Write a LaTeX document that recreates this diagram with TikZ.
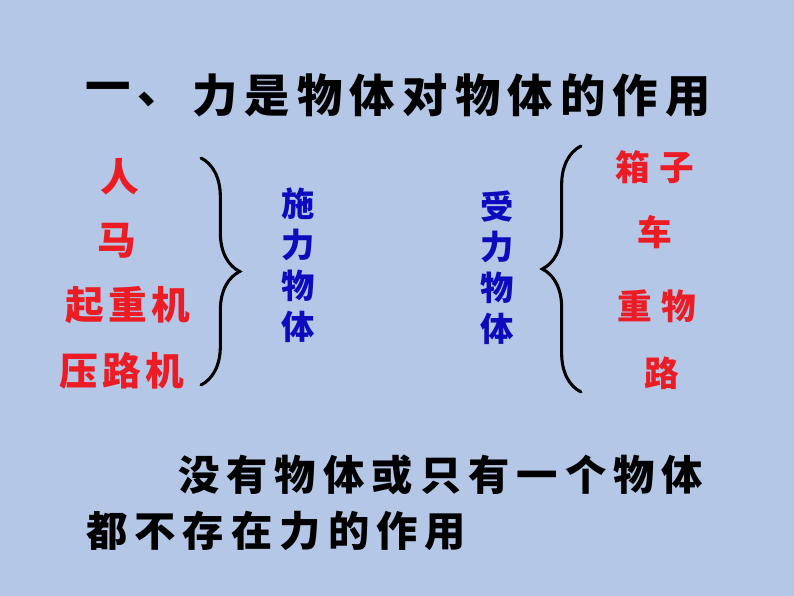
\documentclass[tikz,border=0pt]{standalone}
\usepackage{fontspec}
\newfontfamily\cjk{Noto Sans CJK SC}
\usetikzlibrary{decorations.pathreplacing}
\definecolor{slidebg}{RGB}{180,199,231}
\definecolor{objred}{RGB}{236,28,36}
\definecolor{objblue}{RGB}{12,12,190}

\begin{document}
\begin{tikzpicture}[x=0.75pt, y=-0.75pt,
  headline/.style={inner sep=0pt, font=\cjk\bfseries\fontsize{34pt}{40pt}\selectfont\addfontfeature{LetterSpace=16}},
  leftobj/.style={inner sep=0pt, text=objred, font=\cjk\bfseries\fontsize{29pt}{34pt}\selectfont\addfontfeature{LetterSpace=12}},
  rightobj/.style={inner sep=0pt, text=objred, font=\cjk\bfseries\fontsize{26pt}{30pt}\selectfont\addfontfeature{LetterSpace=28}},
  role/.style={inner sep=0pt, text=objblue, font=\cjk\bfseries\fontsize{25pt}{30pt}\selectfont},
  remark/.style={inner sep=0pt, font=\cjk\bfseries\fontsize{31pt}{36pt}\selectfont\addfontfeature{LetterSpace=17}},
  bracestroke/.style={line width=2.3pt, line cap=round, decorate, decoration={brace, amplitude=29pt, aspect=0.5}}]

\fill[slidebg] (0,0) rectangle (794,596);
\useasboundingbox (0,0) rectangle (794,596);

% title
\node[headline, anchor=west] (num) at (85,95) {一、};
\node[headline, anchor=west] (title) at (192,95) {力是物体对物体的作用};

% bodies exerting the force
\node[leftobj] (ren)   at (120,177) {人};
\node[leftobj] (ma)    at (117,241) {马};
\node[leftobj] (crane) at (128,305) {起重机};
\node[leftobj] (rolr)  at (122,371) {压路机};

% bodies receiving the force
\node[rightobj] (box)  at (655,167) {箱子};
\node[rightobj] (car)  at (655,232) {车};
\node[rightobj] (load) at (657,306) {重物};
\node[rightobj] (road) at (662,373) {路};

% vertical labels
\foreach \ch [count=\i] in {施,力,物,体}
  \node[role] (shi\i) at (298,163+41*\i) {\ch};
\foreach \ch [count=\i] in {受,力,物,体}
  \node[role] (shou\i) at (497,165+41*\i) {\ch};

% braces
\coordinate (lbtop) at (201,158);
\coordinate (lbbot) at (201,385);
\coordinate (rbtop) at (581,146);
\coordinate (rbbot) at (581,392);
\draw[bracestroke] (lbtop) -- (lbbot);
\draw[bracestroke] (rbbot) -- (rbtop);

% conclusion
\node[remark, anchor=west] (line1) at (178,475) {没有物体或只有一个物体};
\node[remark, anchor=west] (line2) at (86,531) {都不存在力的作用};

\end{tikzpicture}
\end{document}
